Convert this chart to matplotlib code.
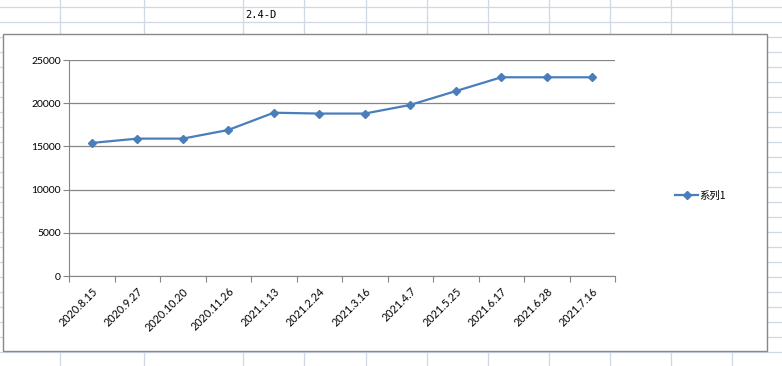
import matplotlib
matplotlib.use("Agg")
import matplotlib.pyplot as plt
from matplotlib.lines import Line2D
from matplotlib.patches import Rectangle
import numpy as np

# ── datos ──
fechas = ["2020.8.15", "2020.9.27", "2020.10.20", "2020.11.26", "2021.1.13", "2021.2.24",
          "2021.3.16", "2021.4.7", "2021.5.25", "2021.6.17", "2021.6.28", "2021.7.16"]
valores = [15400, 15900, 15900, 16900, 18900, 18800, 18800, 19800, 21400, 23000, 23000, 23000]
y_ticks = [0, 5000, 10000, 15000, 20000, 25000]
serie = "系列1"
titulo_celda = "2.4-D"

W, H = 782, 366
AZUL = "#4A7EBB"
GRIS = "#868686"
CELDA = "#D0D7E5"

def fx(px):
    return px / W

def fy(py):
    return 1 - py / H

fig = plt.figure(figsize=(W / 100, H / 100), dpi=100, facecolor="white")

# cuadrícula de la hoja de cálculo
for x in [60, 144, 243, 304, 366, 427, 488, 549, 610, 671, 732]:
    fig.add_artist(Line2D([fx(x), fx(x)], [0, 1], color=CELDA, lw=0.9, zorder=0))
for y in range(7, H + 1, 15):
    fig.add_artist(Line2D([0, 1], [fy(y), fy(y)], color=CELDA, lw=0.9, zorder=0))

fig.text(fx(245), fy(15), titulo_celda, fontsize=7.5, family="DejaVu Sans Mono",
         va="center", ha="left", color="black")

# marco del gráfico
fig.add_artist(Rectangle((fx(3), fy(351)), fx(767) - fx(3), fy(34) - fy(351),
                         facecolor="white", edgecolor="#888888", lw=1.0, zorder=1))

ax = fig.add_axes([fx(69), fy(276), fx(615) - fx(69), fy(60) - fy(276)], zorder=2)
ax.set_facecolor("none")

x = np.arange(len(valores))
ax.plot(x, valores, color=AZUL, lw=1.6, marker="D", markersize=4.2,
        markerfacecolor=AZUL, markeredgecolor=AZUL, label=serie, zorder=3)

ax.set_xlim(-0.5, len(valores) - 0.5)
ax.set_ylim(0, 25000)
ax.set_yticks(y_ticks)
ax.set_yticklabels([str(v) for v in y_ticks], fontsize=7.5, family="Lato")
ax.yaxis.grid(True, color=GRIS, lw=0.9)
ax.set_axisbelow(True)

# ticks de categoría entre puntos
ax.set_xticks(np.arange(-0.5, len(valores), 1.0))
ax.set_xticklabels([])
ax.set_xticks(x, minor=True)
ax.set_xticklabels(fechas, minor=True, rotation=45, ha="right", va="top",
                   rotation_mode="anchor", fontsize=7.8, family="Lato")
ax.tick_params(axis="x", which="major", length=4, color=GRIS, direction="out")
ax.tick_params(axis="x", which="minor", length=0, pad=7)
ax.tick_params(axis="y", length=4, color=GRIS, direction="out", pad=2)

for s in ["top", "right"]:
    ax.spines[s].set_visible(False)
ax.spines["left"].set_color(GRIS)
ax.spines["bottom"].set_color(GRIS)

leg = fig.legend(loc="center left", bbox_to_anchor=(fx(666), fy(196)), frameon=False,
                 handlelength=2.2, handletextpad=0.1,
                 prop={"family": ["Noto Sans CJK SC", "DejaVu Sans"], "size": 7.5})

fig.savefig("out.png", dpi=100, facecolor="white")
